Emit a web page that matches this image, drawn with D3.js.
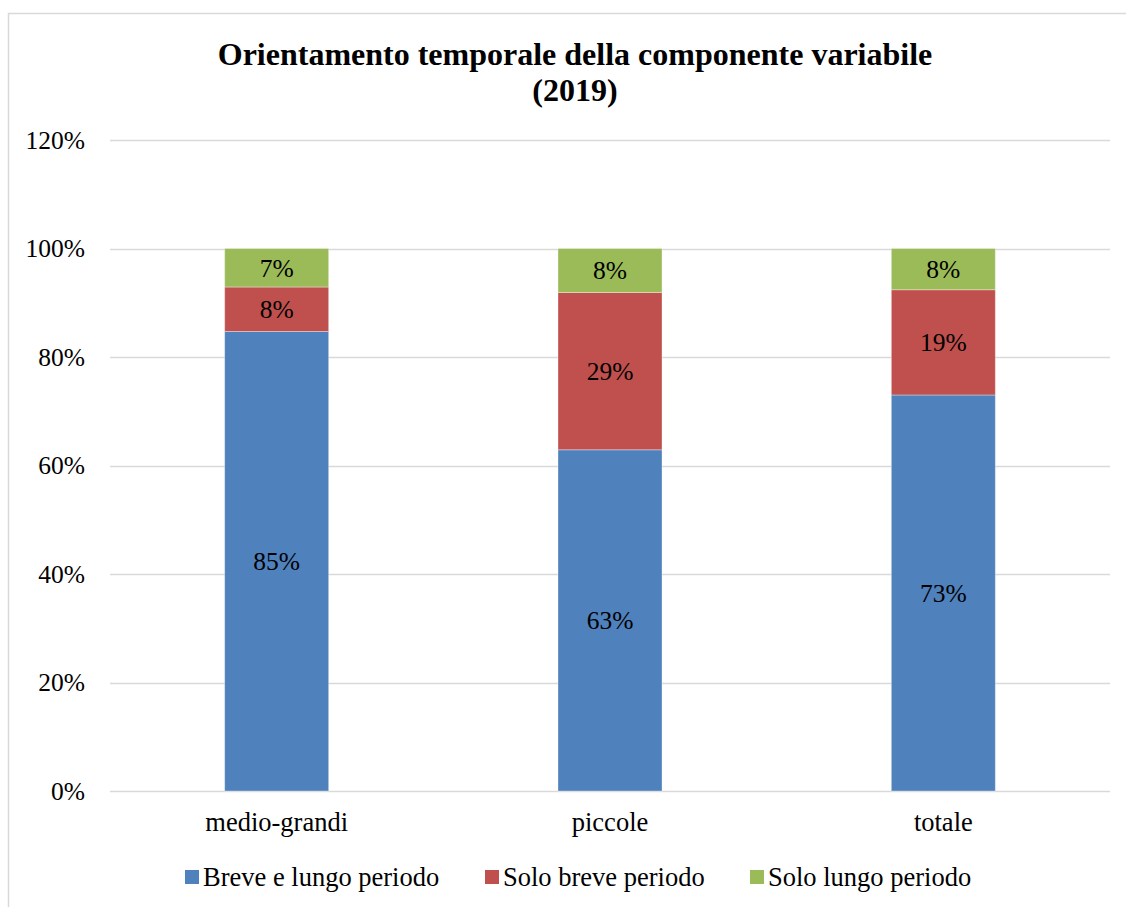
<!DOCTYPE html>
<html>
<head>
<meta charset="utf-8">
<script src="https://cdn.jsdelivr.net/npm/d3@7"></script>
<style>
  html, body { margin: 0; padding: 0; background: #fff; }
  svg { display: block; font-family: "Liberation Serif", "Times New Roman", serif; }
</style>
</head>
<body>
<svg id="chart" width="1126" height="907"></svg>
<script>
const categories = ["medio-grandi", "piccole", "totale"];
const seriesNames = ["Breve e lungo periodo", "Solo breve periodo", "Solo lungo periodo"];
const breveLungo = [84.7, 62.9, 73.0];
const soloBreve = [8.2, 29.0, 19.4];
const soloLungo = [7.1, 8.1, 7.6];
const valueLabels = [["85%", "63%", "73%"], ["8%", "29%", "19%"], ["7%", "8%", "8%"]];
const yTicks = [0, 20, 40, 60, 80, 100, 120];
const colors = ["#4F81BD", "#C0504D", "#9BBB59"];

const svg = d3.select("#chart");
// outer border
svg.append("rect").attr("x", 8.5).attr("y", 13.5).attr("width", 1130).attr("height", 900)
  .attr("fill", "none").attr("stroke", "#D9D9D9").attr("stroke-width", 1.5);

const x = d3.scaleBand().domain(categories).range([110, 1110]).paddingInner(0.688).paddingOuter(0.344);
const y = d3.scaleLinear().domain([0, 120]).range([791, 140]);

// gridlines
svg.append("g").selectAll("line").data(yTicks).join("line")
  .attr("x1", 110).attr("x2", 1110)
  .attr("y1", d => Math.round(y(d)) + 0.5).attr("y2", d => Math.round(y(d)) + 0.5)
  .attr("stroke", "#D9D9D9").attr("stroke-width", 1.5);

// y axis labels
const yAxis = d3.axisLeft(y).tickValues(yTicks).tickFormat(d => d + "%").tickSize(0).tickPadding(0);
const yg = svg.append("g").attr("transform", "translate(85,0)").call(yAxis);
yg.select(".domain").remove();
yg.selectAll("text").attr("font-size", 25.5).attr("font-family", "Liberation Serif, serif").attr("fill", "#000");

// x axis labels
const xAxis = d3.axisBottom(x).tickSize(0).tickPadding(0);
const xg = svg.append("g").attr("transform", "translate(0,812)").call(xAxis);
xg.select(".domain").remove();
xg.selectAll("text").attr("font-size", 26.5).attr("font-family", "Liberation Serif, serif").attr("fill", "#000");

// stacked data
const rows = categories.map((c, i) => ({ cat: c, s0: breveLungo[i], s1: soloBreve[i], s2: soloLungo[i] }));
const stack = d3.stack().keys(["s0", "s1", "s2"])(rows);

const layers = svg.append("g").selectAll("g").data(stack).join("g")
  .attr("fill", (d, i) => colors[i]);
layers.selectAll("rect").data(d => d).join("rect")
  .attr("x", d => x(d.data.cat))
  .attr("width", x.bandwidth())
  .attr("y", d => y(d[1]))
  .attr("height", d => y(d[0]) - y(d[1]))
  .attr("stroke", "#ffffff").attr("stroke-opacity", 0.35).attr("stroke-width", 1);

// value labels
stack.forEach((layer, li) => {
  svg.append("g").selectAll("text").data(layer).join("text")
    .attr("x", d => x(d.data.cat) + x.bandwidth() / 2)
    .attr("y", d => (y(d[0]) + y(d[1])) / 2)
    .attr("dy", "0.35em")
    .attr("text-anchor", "middle")
    .attr("font-size", 25.5)
    .attr("fill", "#000")
    .text((d, i) => valueLabels[li][i]);
});

// title
svg.append("text").attr("x", 575).attr("y", 65).attr("text-anchor", "middle")
  .attr("font-size", 32).attr("font-weight", "bold").text("Orientamento temporale della componente variabile");
svg.append("text").attr("x", 575).attr("y", 101).attr("text-anchor", "middle")
  .attr("font-size", 32).attr("font-weight", "bold").text("(2019)");

// legend
const legendX = [185, 485, 750];
const lg = svg.append("g").selectAll("g").data(seriesNames).join("g")
  .attr("transform", (d, i) => `translate(${legendX[i]},0)`);
lg.append("rect").attr("x", 0).attr("y", 870).attr("width", 14).attr("height", 14)
  .attr("fill", (d, i) => colors[i]);
lg.append("text").attr("x", 18).attr("y", 886).attr("font-size", 26.5).attr("fill", "#000")
  .text(d => d);
</script>
</body>
</html>
